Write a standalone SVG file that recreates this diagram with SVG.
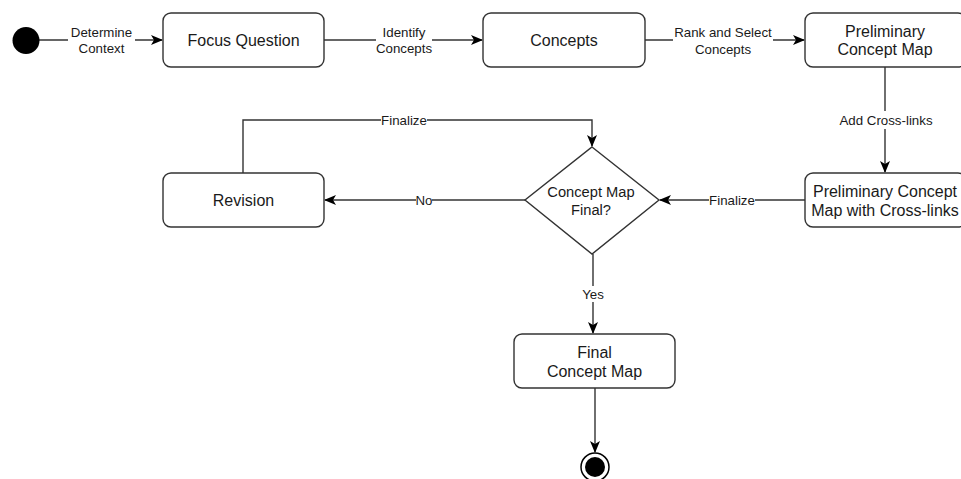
<svg xmlns="http://www.w3.org/2000/svg" width="961" height="479" viewBox="0 0 961 479">
<defs>
<marker id="arr" viewBox="0 0 12 10" refX="11" refY="5" markerWidth="12" markerHeight="10" markerUnits="userSpaceOnUse" orient="auto">
<path d="M0,0 L12,5 L0,10 L3,5 z" fill="#000"/>
</marker>
<style>
.box{fill:#fff;stroke:#333;stroke-width:1.4}
.edge{fill:none;stroke:#333;stroke-width:1.4;marker-end:url(#arr)}
.nt{font-family:"Liberation Sans",Arial,sans-serif;font-size:16px;fill:#1a1a1a;text-anchor:middle;dominant-baseline:central}
.et{font-family:"Liberation Sans",Arial,sans-serif;font-size:13.3px;fill:#1a1a1a;text-anchor:middle;dominant-baseline:central}
.dt{font-family:"Liberation Sans",Arial,sans-serif;font-size:14.7px;fill:#1a1a1a;text-anchor:middle;dominant-baseline:central}
.lbg{fill:#fff}
</style>
</defs>
<rect width="961" height="479" fill="#fff"/>
<g id="connectors">
<path class="edge" d="M39,40 L162,40"/>
<rect class="lbg" x="68" y="24" width="67" height="32"/>
<text class="et" x="101.5" y="32">Determine</text>
<text class="et" x="101.5" y="48">Context</text>

<path class="edge" d="M324,40 L482,40"/>
<rect class="lbg" x="376" y="24" width="56" height="32"/>
<text class="et" x="404" y="32">Identify</text>
<text class="et" x="404" y="48">Concepts</text>

<path class="edge" d="M645,40 L804,40"/>
<rect class="lbg" x="673" y="24" width="100" height="32"/>
<text class="et" x="723" y="32">Rank and Select</text>
<text class="et" x="723" y="49">Concepts</text>

<path class="edge" d="M885,67 L885,172"/>
<rect class="lbg" x="836" y="111" width="100" height="18"/>
<text class="et" x="886" y="120">Add Cross-links</text>

<path class="edge" d="M805,200 L660,200"/>
<rect class="lbg" x="709" y="192" width="46" height="16"/>
<text class="et" x="732" y="200">Finalize</text>

<path class="edge" d="M525,200 L325,200"/>
<rect class="lbg" x="416" y="192" width="16" height="16"/>
<text class="et" x="424" y="200">No</text>

<path class="edge" d="M243,173 L243,120 L592,120 L592,146"/>
<rect class="lbg" x="381" y="112" width="46" height="16"/>
<text class="et" x="404" y="120">Finalize</text>

<path class="edge" d="M593,254 L593,333"/>
<rect class="lbg" x="580" y="286" width="26" height="16"/>
<text class="et" x="593" y="294">Yes</text>

<path class="edge" d="M595,388 L595,452"/>
</g>
<g id="start"><circle cx="26" cy="40.5" r="13.5" fill="#000"/></g>
<g id="focus"><rect class="box" x="163" y="13" width="161" height="54" rx="8"/><text class="nt" x="243.5" y="40">Focus Question</text></g>
<g id="concepts"><rect class="box" x="483" y="13" width="162" height="54" rx="8"/><text class="nt" x="564" y="40">Concepts</text></g>
<g id="prelim"><rect class="box" x="805" y="13" width="161" height="54" rx="8"/><text class="nt" x="885" y="31">Preliminary</text><text class="nt" x="885" y="49">Concept Map</text></g>
<g id="prelimx"><rect class="box" x="805" y="173" width="161" height="54" rx="8"/><text class="nt" x="885" y="191">Preliminary Concept</text><text class="nt" x="885" y="210">Map with Cross-links</text></g>
<g id="decision"><path class="box" d="M592,147 L659,200 L592,254 L525,200 Z"/><text class="dt" x="591" y="192">Concept Map</text><text class="dt" x="591" y="210">Final?</text></g>
<g id="revision"><rect class="box" x="163" y="173" width="161" height="54" rx="8"/><text class="nt" x="243.5" y="200">Revision</text></g>
<g id="final"><rect class="box" x="514" y="334" width="161" height="54" rx="8"/><text class="nt" x="594.5" y="352">Final</text><text class="nt" x="594.5" y="371">Concept Map</text></g>
<g id="end"><circle cx="595" cy="467" r="14" fill="#fff" stroke="#000" stroke-width="1.5"/><circle cx="595" cy="467" r="10" fill="#000"/></g>
</svg>
